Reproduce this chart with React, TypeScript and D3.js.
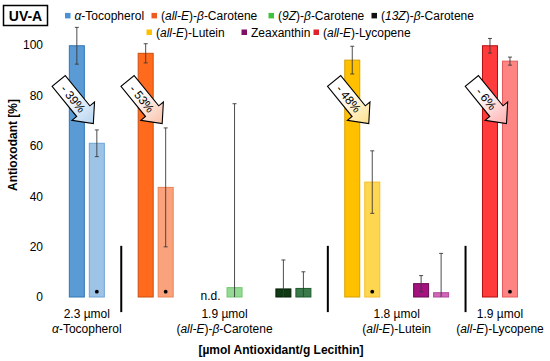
import React from "react";
import * as d3 from "d3";

const categories = ["aToc", "allEbCar", "9ZbCar", "13ZbCar", "allELut", "Zea", "allELyc"];
const beforeValues: (number | null)[] = [99.7, 96.7, null, 3.2, 94, 5.3, 99.7];
const beforeErrors: (number | null)[] = [7.3, 3.8, null, 11.5, 5.5, 3.2, 2.9];
const afterValues = [61, 43.5, 3.7, 3.4, 45.6, 1.7, 93.6];
const afterErrors = [5.3, 23.6, 73, 6.6, 12.4, 15.6, 1.6];
const arrowLabels: (string | null)[] = ["- 39%", "- 53%", null, null, "- 48%", null, "- 6%"];
const markers = [true, true, false, false, true, false, true];
const yTicks = [0, 20, 40, 60, 80, 100];

const beforeFill = ["#5B9BD5", "#FF6A1C", "#5FCB5F", "#0E3A14", "#FFC000", "#A3127F", "#FF3B3B"];
const beforeStroke = ["#2F75B5", "#C9500F", "#3A9A3A", "#051F08", "#D9A000", "#6B0A52", "#B50D0D"];
const afterFill = ["#9DC3E6", "#F9A27C", "#93DB93", "#3B7A4A", "#FFD64F", "#D466B9", "#FF8585"];
const afterStroke = ["#6FA4D6", "#EA8456", "#70C470", "#1F5A2E", "#F2BE2A", "#B0469A", "#E55A5A"];
const arrowColors = ["#B4D3F0", "#F9C2AA", null, null, "#FFE08A", null, "#FFAEAE"];

const groups = [
  { cats: [0], line1: "2.3 µmol", line2: [["α", true], ["-Tocopherol", false]] },
  { cats: [1, 2, 3], line1: "1.9 µmol", line2: [["(", false], ["all-E", true], [")-", false], ["β", true], ["-Carotene", false]] },
  { cats: [4, 5], line1: "1.8 µmol", line2: [["(", false], ["all-E", true], [")-Lutein", false]] },
  { cats: [6], line1: "1.9 µmol", line2: [["(", false], ["all-E", true], [")-Lycopene", false]] },
];
const separatorsAfter = [0, 3, 5];

const legendRows = [
  [
    { color: "#4A90D9", x: 65, parts: [["α", true], ["-Tocopherol", false]] },
    { color: "#F05A22", x: 151.5, parts: [["(", false], ["all-E", true], [")-", false], ["β", true], ["-Carotene", false]] },
    { color: "#3FC23F", x: 268.5, parts: [["(", false], ["9Z", true], [")-", false], ["β", true], ["-Carotene", false]] },
    { color: "#111111", x: 371.5, parts: [["(", false], ["13Z", true], [")-", false], ["β", true], ["-Carotene", false]] },
  ],
  [
    { color: "#FFC000", x: 146.5, parts: [["(", false], ["all-E", true], [")-Lutein", false]] },
    { color: "#7E0F62", x: 241.5, parts: [["Zeaxanthin", false]] },
    { color: "#E0202A", x: 313.5, parts: [["(", false], ["all-E", true], [")-Lycopene", false]] },
  ],
];

const W = 550;
const H = 361;
const FONT = "'Liberation Sans', Arial, sans-serif";

function Parts({ parts }: { parts: any[] }) {
  return (
    <>
      {parts.map((p, i) => (
        <tspan key={i} fontStyle={p[1] ? "italic" : "normal"}>
          {p[0]}
        </tspan>
      ))}
    </>
  );
}

export default function App() {
  const x = d3.scaleBand<string>().domain(categories).range([52.4, 534.4]).padding(0);
  const y = d3.scaleLinear().domain([0, 100]).range([297, 45]);
  const step = x.step();
  const cx = (i: number) => (x(categories[i]) as number) + step / 2;
  const barW = 15;
  const off = 10;

  const errorBar = (xc: number, v: number, e: number, key: string) => {
    const top = v + e;
    const low = Math.max(0, v - e);
    return (
      <g key={key} stroke="#3a3a3a" strokeWidth={0.9}>
        <line x1={xc} x2={xc} y1={y(top)} y2={y(low)} />
        <line x1={xc - 2} x2={xc + 2} y1={y(top)} y2={y(top)} />
        {v - e > 0 && <line x1={xc - 2} x2={xc + 2} y1={y(low)} y2={y(low)} />}
      </g>
    );
  };

  return (
    <svg
      width={W}
      height={H}
      style={{ position: "absolute", left: 0, top: 0, background: "#fff" }}
      fontFamily={FONT}
    >
      <defs>
        {arrowColors.map((c, i) =>
          c ? (
            <linearGradient key={i} id={`ag${i}`} x1="0" x2="1" y1="0" y2="0">
              <stop offset="0" stopColor="#ffffff" />
              <stop offset="0.3" stopColor="#ffffff" />
              <stop offset="1" stopColor={c} />
            </linearGradient>
          ) : null
        )}
      </defs>

      {/* UV-A box */}
      <rect x={3.5} y={5.5} width={44} height={20} fill="#fff" stroke="#000" strokeWidth={1.5} />
      <text x={25.5} y={20.5} textAnchor="middle" fontSize={14} fontWeight="bold">
        UV-A
      </text>

      {/* Legend */}
      {legendRows.map((row, ri) =>
        row.map((item, ii) => {
          const cy = ri === 0 ? 15.7 : 32.3;
          return (
            <g key={`${ri}-${ii}`}>
              <rect x={item.x} y={cy - 2.8} width={5.5} height={5.5} fill={item.color} />
              <text x={item.x + 9.5} y={cy + 4.3} fontSize={12}>
                <Parts parts={item.parts} />
              </text>
            </g>
          );
        })
      )}

      {/* Y axis tick labels */}
      {yTicks.map((t) => (
        <text key={t} x={43} y={y(t) + 4.3} textAnchor="end" fontSize={12}>
          {t}
        </text>
      ))}
      <text
        transform={`translate(16.5,145) rotate(-90)`}
        textAnchor="middle"
        fontSize={12}
        fontWeight="bold"
      >
        Antioxodant [%]
      </text>

      {/* Bars */}
      {categories.map((c, i) => {
        const xc = cx(i);
        const bv = beforeValues[i];
        return (
          <g key={c}>
            {bv !== null ? (
              <rect
                x={xc - off - barW / 2}
                y={y(bv)}
                width={barW}
                height={y(0) - y(bv)}
                fill={beforeFill[i]}
                stroke={beforeStroke[i]}
                strokeWidth={1}
              />
            ) : (
              <text x={xc - off - 4} y={y(0) + 2.5} textAnchor="middle" fontSize={12}>
                n.d.
              </text>
            )}
            <rect
              x={xc + off - barW / 2}
              y={y(afterValues[i])}
              width={barW}
              height={y(0) - y(afterValues[i])}
              fill={afterFill[i]}
              stroke={afterStroke[i]}
              strokeWidth={1}
            />
          </g>
        );
      })}

      {/* Error bars */}
      {categories.map((c, i) => {
        const xc = cx(i);
        const bv = beforeValues[i];
        const be = beforeErrors[i];
        return (
          <g key={`e${c}`}>
            {bv !== null && be !== null && errorBar(xc - off, bv, be, "b")}
            {errorBar(xc + off, afterValues[i], afterErrors[i], "a")}
          </g>
        );
      })}

      {/* significance markers */}
      {categories.map((c, i) =>
        markers[i] ? <circle key={`m${c}`} cx={cx(i) + off} cy={y(2.1)} r={1.9} fill="#000" /> : null
      )}

      {/* Arrows */}
      {categories.map((c, i) => {
        const label = arrowLabels[i];
        if (!label) return null;
        const tipX = cx(i) + 6.5;
        const tipY = y(68.8);
        const L = 55;
        const w = 8.5;
        const hl = 16;
        const hw = 14.5;
        const pts = [
          [-L, -w],
          [-hl, -w],
          [-hl, -hw],
          [0, 0],
          [-hl, hw],
          [-hl, w],
          [-L, w],
        ]
          .map((p) => p.join(","))
          .join(" ");
        return (
          <g key={`a${c}`} transform={`translate(${tipX},${tipY}) rotate(51)`}>
            <polygon points={pts} fill={`url(#ag${i})`} stroke="#000" strokeWidth={1.1} strokeLinejoin="miter" />
            <text x={-32} y={4.3} textAnchor="middle" fontSize={12}>
              {label}
            </text>
          </g>
        );
      })}

      {/* Separators */}
      {separatorsAfter.map((s) => {
        const xs = (x(categories[s]) as number) + step;
        return <line key={`s${s}`} x1={xs} x2={xs} y1={y(20.3)} y2={y(-6)} stroke="#000" strokeWidth={2} />;
      })}

      {/* Group labels */}
      {groups.map((g, gi) => {
        const gx = d3.mean(g.cats.map((ci) => cx(ci))) as number;
        return (
          <g key={`g${gi}`}>
            <text x={gx} y={317.5} textAnchor="middle" fontSize={12}>
              {g.line1}
            </text>
            <text x={gx} y={332.5} textAnchor="middle" fontSize={12}>
              <Parts parts={g.line2} />
            </text>
          </g>
        );
      })}

      {/* X title */}
      <text x={281} y={354} textAnchor="middle" fontSize={12} fontWeight="bold">
        [µmol Antioxidant/g Lecithin]
      </text>
    </svg>
  );
}
